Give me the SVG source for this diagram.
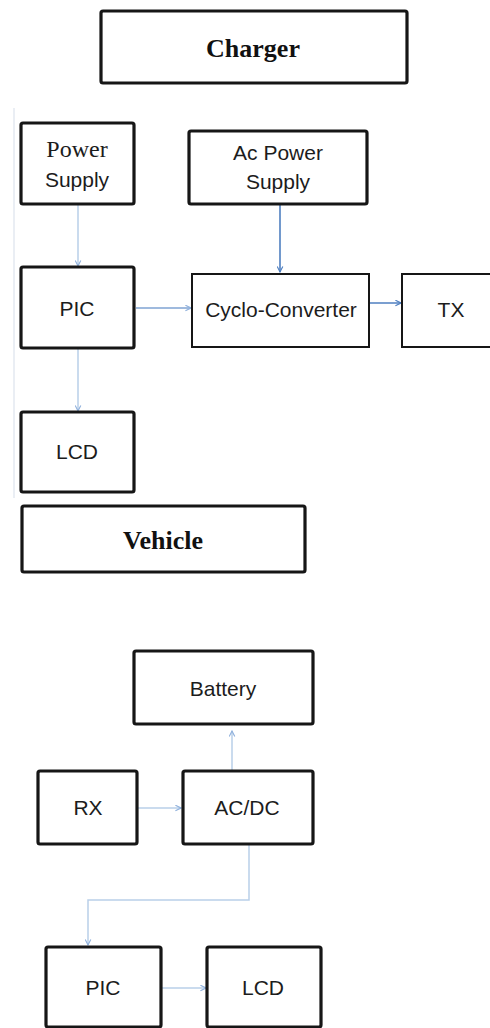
<svg xmlns="http://www.w3.org/2000/svg" width="490" height="1028" viewBox="0 0 490 1028">
  <style>
    .box { fill: #ffffff; stroke: #161616; stroke-width: 3.2; }
    .thin { fill: #ffffff; stroke: #161616; stroke-width: 2; }
    .lbl { font-family: "Liberation Sans", Arial, sans-serif; font-size: 21px; fill: #1c1c1c; text-anchor: middle; }
    .serif { font-family: "Liberation Serif", "Times New Roman", serif; font-size: 24px; fill: #1c1c1c; text-anchor: middle; }
    .title { font-family: "Liberation Serif", "Times New Roman", serif; font-size: 26px; font-weight: bold; fill: #111111; text-anchor: middle; }
    .pale { stroke: #b9cfe9; stroke-width: 1.5; fill: none; }
    .mid { stroke: #7fa3d3; stroke-width: 1.5; fill: none; }
    .dark { stroke: #4f7fc0; stroke-width: 1.6; fill: none; }
  </style>
  <defs>
    <marker id="headPale" viewBox="0 0 10 10" refX="9" refY="5" markerWidth="7" markerHeight="7" markerUnits="userSpaceOnUse" orient="auto">
      <path d="M1,1 L9,5 L1,9" fill="none" stroke="#8fb0dc" stroke-width="1.6"/>
    </marker>
    <marker id="headDark" viewBox="0 0 10 10" refX="9" refY="5" markerWidth="7" markerHeight="7" markerUnits="userSpaceOnUse" orient="auto">
      <path d="M1,1 L9,5 L1,9" fill="none" stroke="#4f7fc0" stroke-width="1.6"/>
    </marker>
  </defs>

  <!-- section divider on the left of the charger block -->
  <line x1="14" y1="108" x2="14" y2="498" stroke="#e3e8f0" stroke-width="1.5"/>

  <!-- connectors -->
  <g id="connectors">
    <line class="pale" x1="78" y1="205" x2="78" y2="266" marker-end="url(#headPale)"/>
    <line class="dark" x1="280" y1="205" x2="280" y2="272" marker-end="url(#headDark)"/>
    <line class="mid" x1="136" y1="308" x2="191" y2="308" marker-end="url(#headPale)"/>
    <line class="dark" x1="368" y1="303" x2="401" y2="303" marker-end="url(#headDark)"/>
    <line class="pale" x1="78" y1="349" x2="78" y2="411" marker-end="url(#headPale)"/>
    <line class="pale" x1="232" y1="770" x2="232" y2="731" marker-end="url(#headPale)"/>
    <line class="pale" x1="138" y1="808" x2="181" y2="808" marker-end="url(#headPale)"/>
    <polyline class="pale" points="249,845 249,900 88,900 88,945" marker-end="url(#headPale)"/>
    <line class="pale" x1="162" y1="988" x2="206" y2="988" marker-end="url(#headPale)"/>
  </g>

  <!-- charger side -->
  <g id="charger">
    <rect class="box" x="101" y="11" width="306" height="72" rx="2"/>
    <text class="title" x="253" y="57">Charger</text>
  </g>
  <g id="power-supply">
    <rect class="box" x="21" y="123" width="113" height="81" rx="2"/>
    <text class="serif" x="77" y="157">Power</text>
    <text class="lbl" x="77" y="187">Supply</text>
  </g>
  <g id="ac-power-supply">
    <rect class="box" x="189" y="131" width="178" height="73" rx="2"/>
    <text class="lbl" x="278" y="160">Ac Power</text>
    <text class="lbl" x="278" y="189">Supply</text>
  </g>
  <g id="pic-charger">
    <rect class="box" x="21" y="267" width="113" height="81" rx="2"/>
    <text class="lbl" x="77" y="316">PIC</text>
  </g>
  <g id="cyclo-converter">
    <rect class="thin" x="192" y="274" width="177" height="73"/>
    <text class="lbl" x="281" y="317">Cyclo-Converter</text>
  </g>
  <g id="tx">
    <rect class="thin" x="402" y="274" width="100" height="73"/>
    <text class="lbl" x="451" y="317">TX</text>
  </g>
  <g id="lcd-charger">
    <rect class="box" x="21" y="412" width="113" height="80" rx="2"/>
    <text class="lbl" x="77" y="459">LCD</text>
  </g>

  <!-- vehicle side -->
  <g id="vehicle">
    <rect class="box" x="22" y="506" width="283" height="66" rx="2"/>
    <text class="title" x="163" y="549">Vehicle</text>
  </g>
  <g id="battery">
    <rect class="box" x="134" y="651" width="179" height="73" rx="2"/>
    <text class="lbl" x="223" y="696">Battery</text>
  </g>
  <g id="rx">
    <rect class="box" x="38" y="771" width="99" height="73" rx="2"/>
    <text class="lbl" x="88" y="815">RX</text>
  </g>
  <g id="ac-dc">
    <rect class="box" x="183" y="771" width="130" height="73" rx="2"/>
    <text class="lbl" x="247" y="815">AC/DC</text>
  </g>
  <g id="pic-vehicle">
    <rect class="box" x="46" y="947" width="115" height="80" rx="2"/>
    <text class="lbl" x="103" y="995">PIC</text>
  </g>
  <g id="lcd-vehicle">
    <rect class="box" x="207" y="947" width="114" height="80" rx="2"/>
    <text class="lbl" x="263" y="995">LCD</text>
  </g>
</svg>
